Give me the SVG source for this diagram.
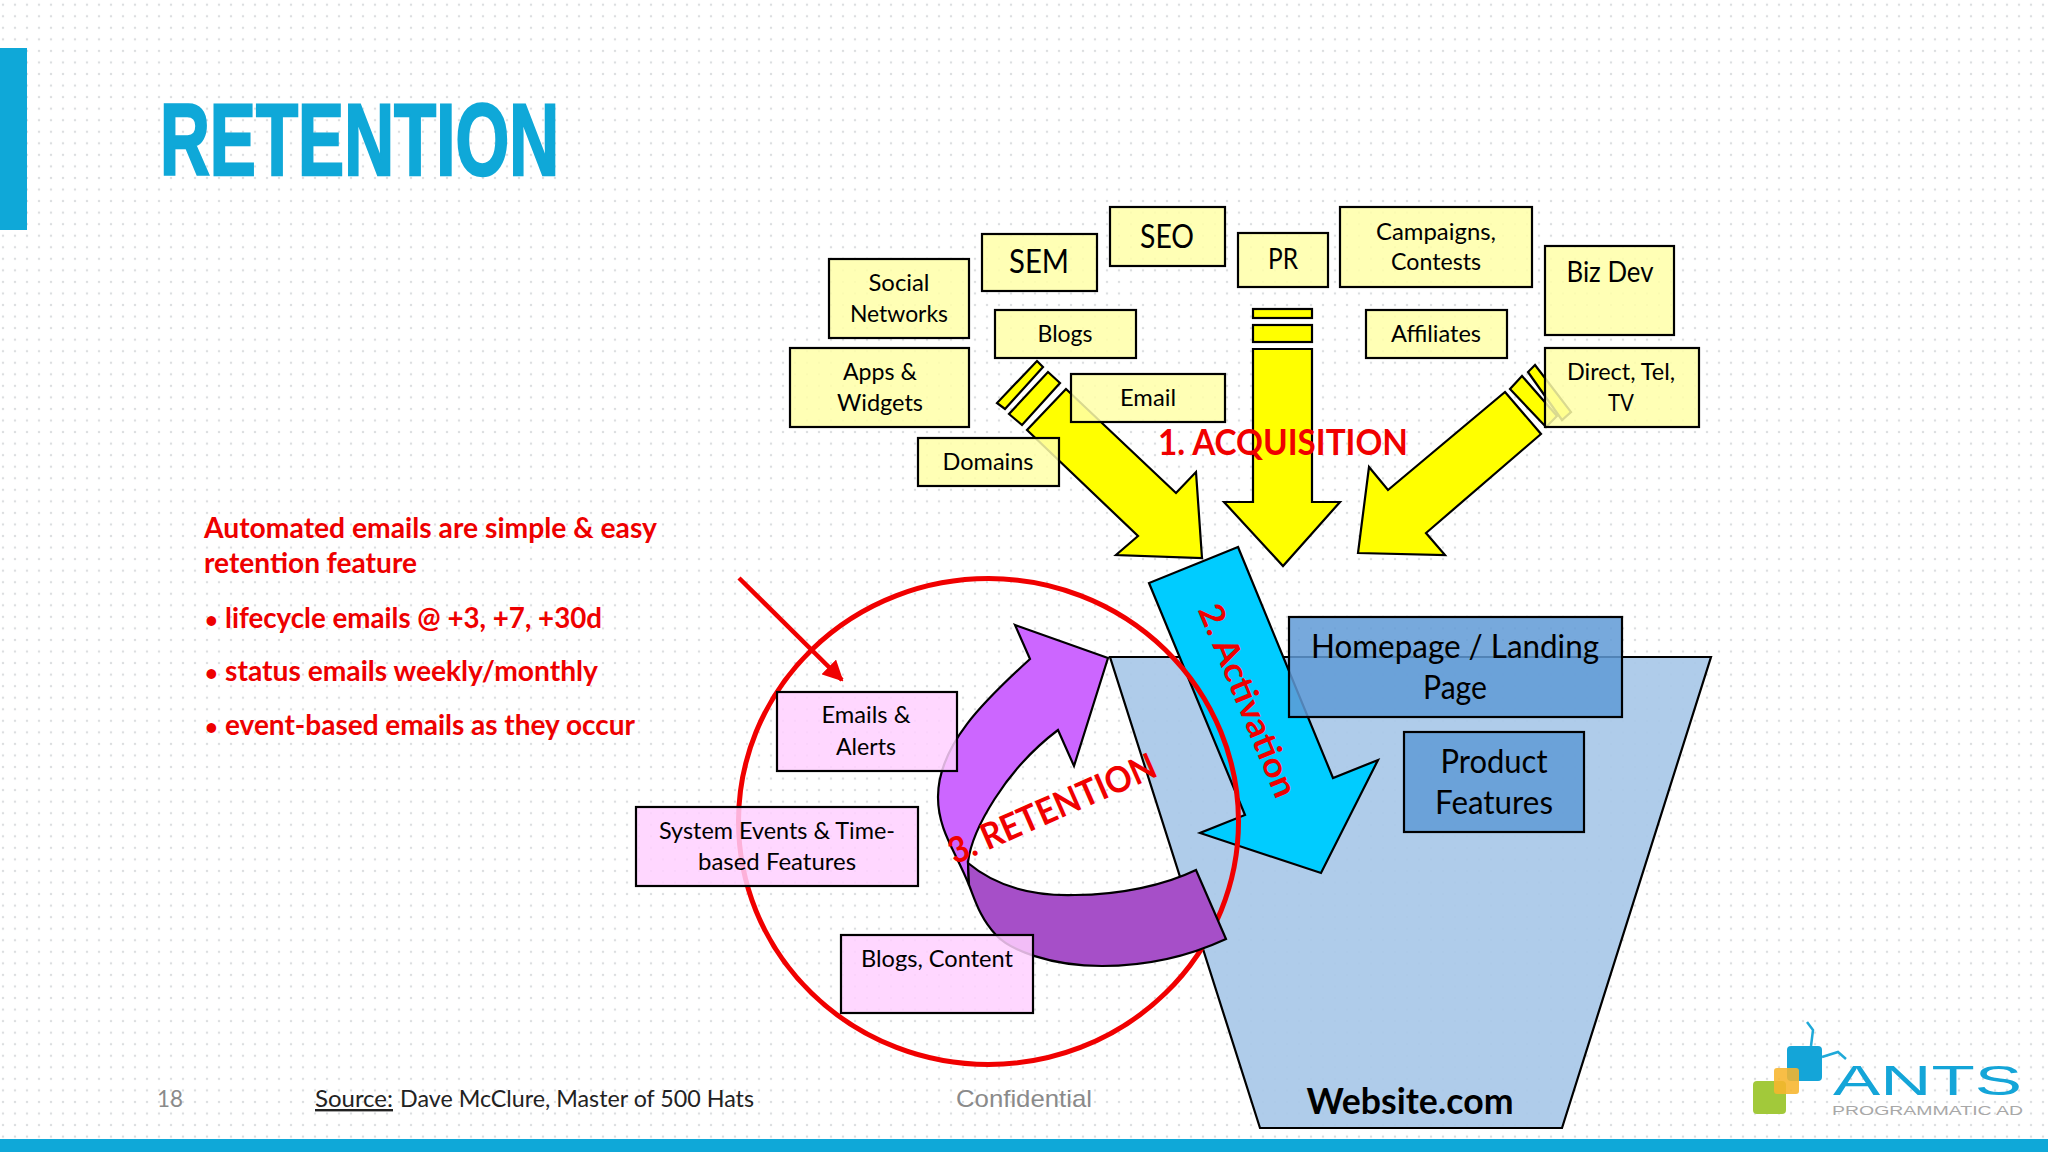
<svg xmlns="http://www.w3.org/2000/svg" width="2048" height="1152" viewBox="0 0 2048 1152">
<style>
text{font-family:"Lato","Open Sans","Liberation Sans",sans-serif}
.box rect{stroke:#000;stroke-width:2.2}
.y rect{fill:#ffffa8;fill-opacity:.85}
.p rect{fill:#ffd0ff;fill-opacity:.85}
.b rect{fill:#5f9ad6;fill-opacity:.85}
.s{font-size:24px;fill:#000;text-anchor:middle}
.m{font-size:29px;fill:#000;text-anchor:middle}
.l{font-size:33px;fill:#000;text-anchor:middle}
.arrow{fill:#ffff00;stroke:#000;stroke-width:2.2;stroke-linejoin:miter}
.red{fill:#f00000;font-weight:700}
.note{font-size:28px;fill:#ee0000;font-weight:700}
.foot{font-size:24px;fill:#222}
</style>
<defs>
<pattern id="dots" x="3" y="4.7" width="12" height="11.55" patternUnits="userSpaceOnUse"><circle cx="0" cy="0" r="1.25" fill="#dcdee0"/><circle cx="12" cy="0" r="1.25" fill="#dcdee0"/><circle cx="0" cy="11.55" r="1.25" fill="#dcdee0"/><circle cx="12" cy="11.55" r="1.25" fill="#dcdee0"/></pattern>
<marker id="redhead" viewBox="0 0 10 10" refX="9" refY="5" markerWidth="4.6" markerHeight="4.6" orient="auto"><path d="M0 0L10 5L0 10Z" fill="#f00000"/></marker>
</defs>
<rect width="2048" height="1152" fill="#fff"/>
<rect width="2048" height="1152" fill="url(#dots)"/>
<rect x="0" y="48" width="27" height="182" fill="#0fa8d8"/>
<rect x="0" y="1139" width="2048" height="13" fill="#0fa8d8"/>
<text id="title" x="160" y="175" font-size="102" font-weight="700" fill="#0fa8d8" stroke="#0fa8d8" stroke-width="2.5" textLength="399" lengthAdjust="spacingAndGlyphs" style="font-family:'Liberation Sans',sans-serif">RETENTION</text>
<g id="funnel"><polygon points="1110,657 1711,657 1562,1128 1260,1128" fill="#a8c8e8" fill-opacity=".92" stroke="#000" stroke-width="2.2"/><text x="1410" y="1114" font-size="36" font-weight="700" fill="#000" text-anchor="middle" textLength="207" lengthAdjust="spacingAndGlyphs">Website.com</text></g>
<g id="activation"><polygon points="1238,547 1149,583 1245,815 1200,833 1321,873 1378,760 1333,778" fill="#00ccff" stroke="#000" stroke-width="2.2"/><text class="red" transform="translate(1237,705) rotate(67.5)" font-size="34" text-anchor="middle" textLength="206" lengthAdjust="spacingAndGlyphs">2. Activation</text></g>
<ellipse id="retention-ring" cx="988.5" cy="821.5" rx="250" ry="243" fill="none" stroke="#f00000" stroke-width="5"/>
<g id="connectors">
<g id="arrow-left"><polygon class="arrow" points="1037,361 1043,367 1005,409 997,403"/><polygon class="arrow" points="1048,372 1060,383 1022,425 1009,414"/><polygon class="arrow" points="1066,389 1027,430 1138,536 1116,555 1202,558 1196,472 1176,493"/></g>
<g id="arrow-center"><rect class="arrow" x="1253" y="309" width="59" height="9"/><rect class="arrow" x="1253" y="325" width="59" height="17"/><polygon class="arrow" points="1253,349 1312,349 1312,502 1340,502 1283,566 1224,502 1253,502"/></g>
<g id="arrow-right"><polygon class="arrow" points="1535,365 1528,372 1562,420 1571,412"/><polygon class="arrow" points="1522,376 1510,389 1546,427 1557,416"/><polygon class="arrow" points="1505,392 1541,434 1426,533 1445,555 1358,553 1369,467 1388,490"/></g>
<path id="retention-up" d="M1108,658 L1015,625 L1030,659 C985,700 938,745 938,797 C938,830 955,850 969,885 L968,862 C972,830 1005,770 1058,730 L1074,766 Z" fill="#cc66ff" stroke="#000" stroke-width="2.2" stroke-linejoin="miter"/>
<path id="retention-bottom" d="M968,863 C1000,890 1040,896 1075,895 C1120,895 1165,885 1196,870 L1226,939 C1185,958 1145,966 1102,966 C1050,966 1010,950 996,935 C980,918 975,900 969,885 Z" fill="#a64fc8" stroke="#000" stroke-width="2.2"/>
<line id="note-pointer" x1="739" y1="578" x2="842" y2="680" stroke="#f00000" stroke-width="4.5" marker-end="url(#redhead)"/>
</g>
<g id="social" class="box y"><rect x="829" y="259" width="140" height="79"/><text class="s" x="899" y="291" textLength="61" lengthAdjust="spacingAndGlyphs">Social</text><text class="s" x="899" y="322" textLength="98" lengthAdjust="spacingAndGlyphs">Networks</text></g>
<g id="sem" class="box y"><rect x="982" y="234" width="115" height="57"/><text class="l" style="font-size:32px" x="1039" y="273" textLength="60" lengthAdjust="spacingAndGlyphs">SEM</text></g>
<g id="seo" class="box y"><rect x="1110" y="207" width="115" height="59"/><text class="l" style="font-size:32px" x="1167" y="248" textLength="54" lengthAdjust="spacingAndGlyphs">SEO</text></g>
<g id="pr" class="box y"><rect x="1238" y="233" width="90" height="54"/><text class="m" x="1283" y="269" textLength="30" lengthAdjust="spacingAndGlyphs">PR</text></g>
<g id="campaigns" class="box y"><rect x="1340" y="207" width="192" height="80"/><text class="s" x="1436" y="240" textLength="120" lengthAdjust="spacingAndGlyphs">Campaigns,</text><text class="s" x="1436" y="270" textLength="90" lengthAdjust="spacingAndGlyphs">Contests</text></g>
<g id="bizdev" class="box y"><rect x="1545" y="246" width="129" height="89"/><text class="m" x="1610" y="282" textLength="87" lengthAdjust="spacingAndGlyphs">Biz Dev</text></g>
<g id="blogs" class="box y"><rect x="995" y="310" width="141" height="48"/><text class="s" x="1065" y="342" textLength="55" lengthAdjust="spacingAndGlyphs">Blogs</text></g>
<g id="affiliates" class="box y"><rect x="1366" y="310" width="141" height="48"/><text class="s" x="1436" y="342" textLength="90" lengthAdjust="spacingAndGlyphs">Affiliates</text></g>
<g id="apps" class="box y"><rect x="790" y="348" width="179" height="79"/><text class="s" x="880" y="380" textLength="74" lengthAdjust="spacingAndGlyphs">Apps &amp;</text><text class="s" x="880" y="411" textLength="86" lengthAdjust="spacingAndGlyphs">Widgets</text></g>
<g id="direct" class="box y"><rect x="1545" y="348" width="154" height="79"/><text class="s" x="1621" y="380" textLength="108" lengthAdjust="spacingAndGlyphs">Direct, Tel,</text><text class="s" x="1621" y="411" textLength="26" lengthAdjust="spacingAndGlyphs">TV</text></g>
<g id="email" class="box y"><rect x="1071" y="374" width="154" height="48"/><text class="s" x="1148" y="406" textLength="56" lengthAdjust="spacingAndGlyphs">Email</text></g>
<g id="domains" class="box y"><rect x="918" y="438" width="141" height="48"/><text class="s" x="988" y="470" textLength="91" lengthAdjust="spacingAndGlyphs">Domains</text></g>
<g id="homepage" class="box b"><rect x="1289" y="617" width="333" height="100"/><text class="l" x="1455" y="658" textLength="288" lengthAdjust="spacingAndGlyphs">Homepage / Landing</text><text class="l" x="1455" y="699" textLength="64" lengthAdjust="spacingAndGlyphs">Page</text></g>
<g id="product" class="box b"><rect x="1404" y="732" width="180" height="100"/><text class="l" x="1494" y="773" textLength="107" lengthAdjust="spacingAndGlyphs">Product</text><text class="l" x="1494" y="814" textLength="118" lengthAdjust="spacingAndGlyphs">Features</text></g>
<g id="emails" class="box p"><rect x="777" y="692" width="180" height="79"/><text class="s" x="866" y="723" textLength="89" lengthAdjust="spacingAndGlyphs">Emails &amp;</text><text class="s" x="866" y="755" textLength="60" lengthAdjust="spacingAndGlyphs">Alerts</text></g>
<g id="system" class="box p"><rect x="636" y="807" width="282" height="79"/><text class="s" x="777" y="839" textLength="236" lengthAdjust="spacingAndGlyphs">System Events &amp; Time-</text><text class="s" x="777" y="870" textLength="158" lengthAdjust="spacingAndGlyphs">based Features</text></g>
<g id="blogs-content" class="box p"><rect x="841" y="935" width="192" height="78"/><text class="s" x="937" y="967" textLength="152" lengthAdjust="spacingAndGlyphs">Blogs, Content</text></g>
<text id="label-acquisition" class="red" x="1283" y="455" font-size="36" text-anchor="middle" textLength="250" lengthAdjust="spacingAndGlyphs">1. ACQUISITION</text>
<text id="label-retention" class="red" transform="translate(1057,820) rotate(-23.6)" font-size="36" text-anchor="middle" textLength="223" lengthAdjust="spacingAndGlyphs">3. RETENTION</text>
<g id="note">
<text class="note" x="204" y="538" textLength="453" lengthAdjust="spacingAndGlyphs">Automated emails are simple &amp; easy</text>
<text class="note" x="204" y="573" textLength="213" lengthAdjust="spacingAndGlyphs">retention feature</text>
<text class="note" x="205" y="628" style="font-size:22px">•</text>
<text class="note" x="225" y="628" textLength="377" lengthAdjust="spacingAndGlyphs">lifecycle emails @ +3, +7, +30d</text>
<text class="note" x="205" y="681" style="font-size:22px">•</text>
<text class="note" x="225" y="681" textLength="373" lengthAdjust="spacingAndGlyphs">status emails weekly/monthly</text>
<text class="note" x="205" y="735" style="font-size:22px">•</text>
<text class="note" x="225" y="735" textLength="410" lengthAdjust="spacingAndGlyphs">event-based emails as they occur</text>
</g>
<g id="footer">
<text class="foot" x="157" y="1107" style="fill:#8a8a8a" textLength="26" lengthAdjust="spacingAndGlyphs">18</text>
<text class="foot" x="315" y="1107" text-decoration="underline" textLength="78" lengthAdjust="spacingAndGlyphs">Source:</text>
<text class="foot" x="400" y="1107" textLength="354" lengthAdjust="spacingAndGlyphs">Dave McClure, Master of 500 Hats</text>
<text x="1024" y="1107" font-size="24" fill="#8a8a8a" text-anchor="middle" style="font-family:'Liberation Sans',sans-serif" textLength="136" lengthAdjust="spacingAndGlyphs">Confidential</text>
</g>
<g id="logo">
<polyline points="1807,1022 1813,1030 1811,1046" fill="none" stroke="#1fa9d8" stroke-width="2.5"/>
<polyline points="1822,1057 1838,1052 1846,1059" fill="none" stroke="#1fa9d8" stroke-width="2.5"/>
<rect x="1753" y="1081" width="33" height="33" rx="4" fill="#a2c93a"/>
<rect x="1787" y="1046" width="35" height="35" rx="4" fill="#14a5d8"/>
<rect x="1774" y="1068" width="25" height="26" rx="3" fill="#f7b52c" fill-opacity=".88"/>
<text x="1833" y="1095" font-size="42" fill="#14a5d8" textLength="189" lengthAdjust="spacingAndGlyphs" style="font-family:'Liberation Sans',sans-serif">ANTS</text>
<text x="1832" y="1115" font-size="12.5" fill="#a8a8a8" textLength="191" lengthAdjust="spacingAndGlyphs" style="font-family:'Liberation Sans',sans-serif">PROGRAMMATIC AD</text>
</g>
</svg>
